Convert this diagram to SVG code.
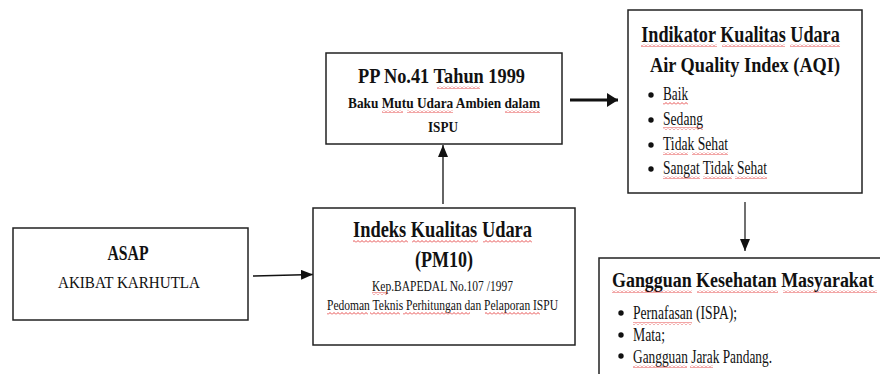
<svg xmlns="http://www.w3.org/2000/svg" width="880" height="374" viewBox="0 0 880 374">
<defs>
<style>
.box{fill:#fff;stroke:#222;stroke-width:1.5}
.t{font-family:"Liberation Serif","Times New Roman",serif;fill:#111}
.b{font-weight:bold}
.c{text-anchor:middle}
.conn{stroke:#111;fill:none}
.sq{fill:url(#wave)}
.dot{fill:#111}
</style>
<pattern id="wave" patternUnits="userSpaceOnUse" width="4" height="3">
<path d="M0,2.5 L2,0.5 L4,2.5" fill="none" stroke="#e02020" stroke-width="0.8"/>
</pattern>
<marker id="ah" markerUnits="userSpaceOnUse" markerWidth="12" markerHeight="10" refX="12" refY="5" orient="auto">
<path d="M0,0 L12,5 L0,10 Z" fill="#111"/>
</marker>
<marker id="ahT" markerUnits="userSpaceOnUse" markerWidth="11" markerHeight="14" refX="11" refY="7" orient="auto">
<path d="M0,0 L11,7 L0,14 Z" fill="#111"/>
</marker>
</defs>
<rect width="880" height="374" fill="#fff"/>

<g id="connectors">
<line class="conn" x1="253" y1="276" x2="313" y2="274.5" stroke-width="1.5" marker-end="url(#ah)"/>
<line class="conn" x1="443" y1="204" x2="443" y2="145" stroke-width="1.3" marker-end="url(#ah)"/>
<line class="conn" x1="570" y1="100" x2="618" y2="100" stroke-width="3" marker-end="url(#ahT)"/>
<line class="conn" x1="745" y1="202" x2="745" y2="251" stroke-width="1.2" marker-end="url(#ah)"/>
</g>

<g id="asap">
<rect class="box" x="13" y="228" width="235" height="92"/>
<text class="t b c" x="128" y="260" font-size="20" textLength="41" lengthAdjust="spacingAndGlyphs">ASAP</text>
<text class="t c" x="129" y="288" font-size="17.5" textLength="142" lengthAdjust="spacingAndGlyphs">AKIBAT KARHUTLA</text>
</g>

<g id="pp41">
<rect class="box" x="326" y="53" width="236" height="91"/>
<text class="t b c" x="441.5" y="83" font-size="22" textLength="167" lengthAdjust="spacingAndGlyphs">PP No.41 Tahun 1999</text>
<text class="t b c" x="444" y="108" font-size="15.5" textLength="192" lengthAdjust="spacingAndGlyphs">Baku Mutu Udara Ambien dalam</text>
<text class="t b c" x="443" y="132" font-size="15.5" textLength="30" lengthAdjust="spacingAndGlyphs">ISPU</text>
<rect class="sq" x="437" y="86" width="43" height="3"/>
<rect class="sq" x="382" y="110" width="21" height="3"/>
<rect class="sq" x="407" y="110" width="46" height="3"/>
<rect class="sq" x="505" y="110" width="35" height="3"/>
</g>

<g id="aqi">
<rect class="box" x="628" y="10" width="234" height="183"/>
<text class="t b c" font-size="23" transform="translate(740.5,42) scale(0.79,1)">Indikator Kualitas Udara</text>
<text class="t b c" x="745" y="72" font-size="22" textLength="190" lengthAdjust="spacingAndGlyphs">Air Quality Index (AQI)</text>
<rect class="sq" x="641" y="44" width="76" height="3"/>
<rect class="sq" x="722" y="44" width="63" height="3"/>
<rect class="sq" x="790" y="44" width="50" height="3"/>
<circle class="dot" cx="651" cy="95" r="2.7"/>
<circle class="dot" cx="651" cy="120" r="2.7"/>
<circle class="dot" cx="651" cy="145" r="2.7"/>
<circle class="dot" cx="651" cy="169" r="2.7"/>
<text class="t" x="663" y="100" font-size="18" textLength="25" lengthAdjust="spacingAndGlyphs">Baik</text>
<text class="t" x="663" y="125" font-size="18" textLength="40" lengthAdjust="spacingAndGlyphs">Sedang</text>
<text class="t" x="663" y="150" font-size="18" textLength="65" lengthAdjust="spacingAndGlyphs">Tidak Sehat</text>
<text class="t" x="663" y="174" font-size="18" textLength="104" lengthAdjust="spacingAndGlyphs">Sangat Tidak Sehat</text>
<rect class="sq" x="663" y="102" width="25" height="3"/>
<rect class="sq" x="663" y="127" width="40" height="3"/>
<rect class="sq" x="663" y="152" width="25" height="3"/>
<rect class="sq" x="692" y="152" width="36" height="3"/>
<rect class="sq" x="663" y="176" width="37" height="3"/>
<rect class="sq" x="703" y="176" width="29" height="3"/>
<rect class="sq" x="735" y="176" width="32" height="3"/>
</g>

<g id="indeks">
<rect class="box" x="313" y="208" width="262" height="137"/>
<text class="t b c" x="442.5" y="237" font-size="22.5" textLength="179" lengthAdjust="spacingAndGlyphs">Indeks Kualitas Udara</text>
<text class="t b c" x="444" y="267" font-size="23" textLength="58" lengthAdjust="spacingAndGlyphs">(PM10)</text>
<text class="t c" x="442.5" y="291" font-size="15" textLength="141" lengthAdjust="spacingAndGlyphs">Kep.BAPEDAL No.107 /1997</text>
<text class="t c" x="442.5" y="310" font-size="15" textLength="231" lengthAdjust="spacingAndGlyphs">Pedoman Teknis Perhitungan dan Pelaporan ISPU</text>
<rect class="sq" x="353" y="240" width="55" height="3"/>
<rect class="sq" x="412" y="240" width="66" height="3"/>
<rect class="sq" x="483" y="240" width="49" height="3"/>
<rect class="sq" x="372" y="292" width="16" height="3"/>
<rect class="sq" x="327" y="312" width="41" height="3"/>
<rect class="sq" x="370" y="312" width="30" height="3"/>
<rect class="sq" x="403" y="312" width="67" height="3"/>
<rect class="sq" x="485" y="312" width="55" height="3"/>
</g>

<g id="gangguan">
<rect class="box" x="599" y="258" width="300" height="140"/>
<text class="t b" font-size="22" transform="translate(612,287) scale(0.815,1)">Gangguan Kesehatan Masyarakat</text>
<rect class="sq" x="612" y="290" width="80" height="3"/>
<rect class="sq" x="697" y="290" width="81" height="3"/>
<rect class="sq" x="783" y="290" width="94" height="3"/>
<circle class="dot" cx="621" cy="313" r="2.7"/>
<circle class="dot" cx="621" cy="335" r="2.7"/>
<circle class="dot" cx="621" cy="356" r="2.7"/>
<text class="t" x="633" y="319" font-size="19" textLength="104" lengthAdjust="spacingAndGlyphs">Pernafasan (ISPA);</text>
<text class="t" x="633" y="341" font-size="19" textLength="32" lengthAdjust="spacingAndGlyphs">Mata;</text>
<text class="t" x="633" y="363" font-size="19" textLength="139" lengthAdjust="spacingAndGlyphs">Gangguan Jarak Pandang.</text>
<rect class="sq" x="633" y="322" width="59" height="3"/>
<rect class="sq" x="633" y="365" width="54" height="3"/>
<rect class="sq" x="690" y="365" width="23" height="3"/>
</g>
</svg>
